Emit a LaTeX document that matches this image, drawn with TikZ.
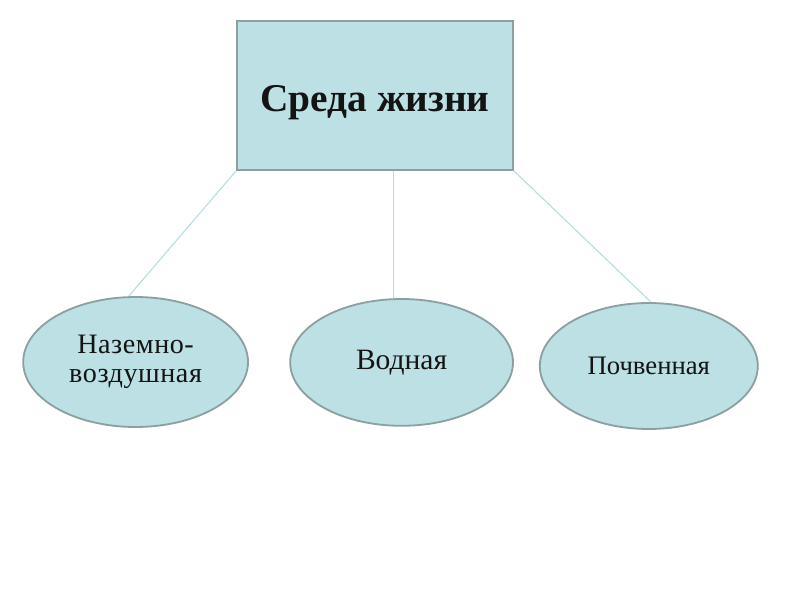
\documentclass[tikz,border=0pt]{standalone}
\usepackage{fontspec}
\setmainfont{Liberation Serif}
\usepackage{tikz}
\usetikzlibrary{shapes.geometric, positioning, calc}
\definecolor{myaqua}{RGB}{188,224,227}
\definecolor{mygrey}{RGB}{140,160,162}
\definecolor{mylink}{RGB}{180,222,226}
\definecolor{mytext}{RGB}{20,20,20}
\tikzset{
  topbox/.style={rectangle, draw=mygrey, fill=myaqua, line width=1.6pt,
    minimum width=6.9cm, minimum height=3.72cm, inner sep=0pt,
    text height=29pt, text=mytext, font=\fontsize{28}{32}\selectfont\bfseries},
  habitat/.style={ellipse, draw=mygrey, fill=myaqua, line width=1.3pt,
    inner sep=0pt, align=center, text=mytext},
  link/.style={line width=0.8pt, color=mylink}
}
\begin{document}
\begin{tikzpicture}
  \useasboundingbox (0,0) rectangle (20,15);

  % Blocks
  \node[topbox] (env) at (9.375, 12.61) {Среда жизни};

  \node[habitat, minimum width=5.62cm, minimum height=3.25cm,
    font=\fontsize{20}{20.5}\selectfont\addfontfeatures{LetterSpace=2}] (land) at (3.39, 5.95) {Наземно-\\воздушная};
  \node[habitat, minimum width=5.57cm, minimum height=3.17cm,
    font=\fontsize{21}{23}\selectfont] (water) at (10.04, 5.94) {Водная};
  \node[habitat, minimum width=5.45cm, minimum height=3.15cm,
    font=\fontsize{19}{21}\selectfont] (soil) at (16.22, 5.85) {Почвенная};

  % Connections
  \draw[link] (env.south west) -- (land.96);
  \draw[link] (water.97) -- (water.97 |- env.south);
  \draw[link] (env.south east) -- (soil.88);
\end{tikzpicture}
\end{document}
